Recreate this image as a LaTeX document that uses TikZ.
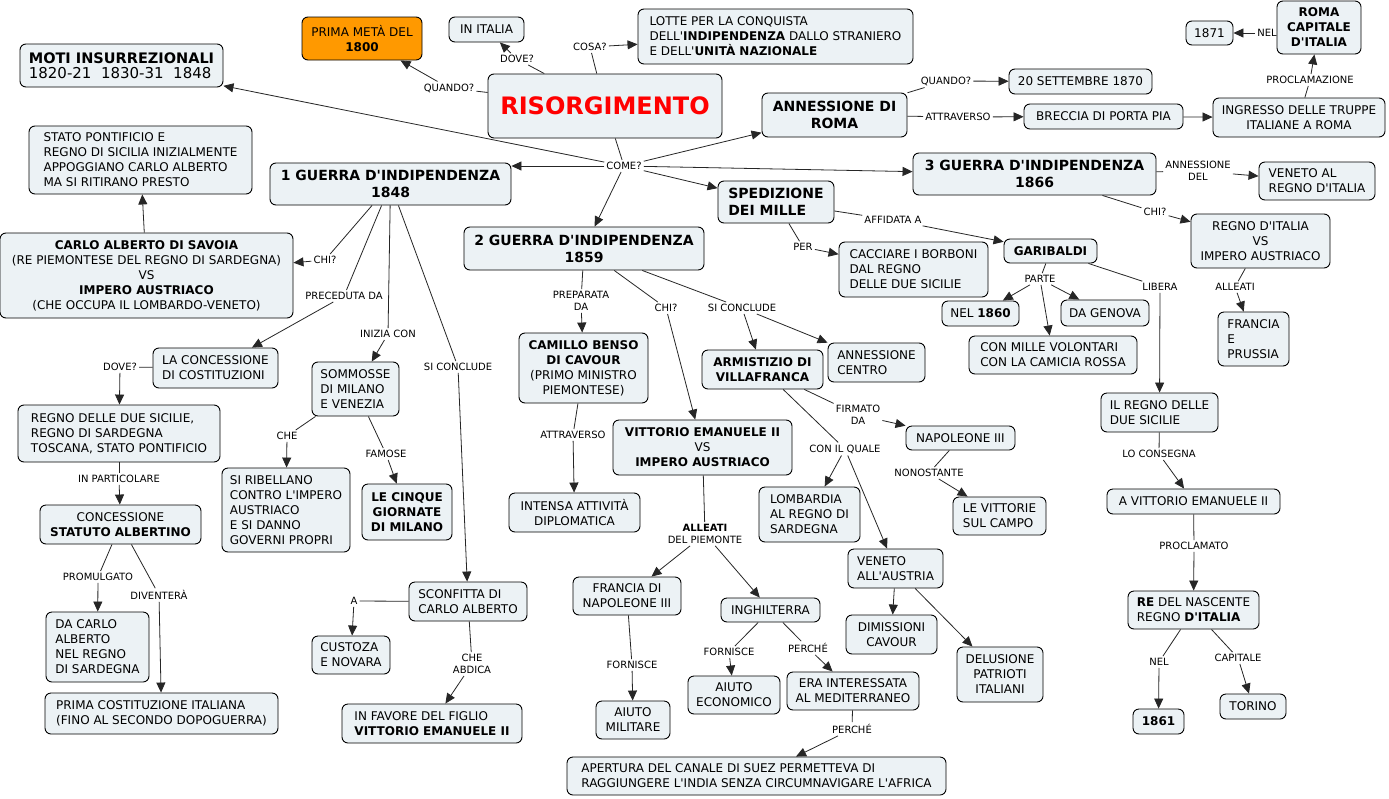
\documentclass[tikz,border=0pt]{standalone}
\usepackage{fontspec}
\setmainfont{DejaVu Sans}[Ligatures=TeXOff]
\usetikzlibrary{arrows.meta,calc}
\definecolor{boxfill}{RGB}{236,242,245}
\definecolor{orangefill}{RGB}{255,153,0}
\newcommand{\nsz}{\fontsize{12}{15}\selectfont}
\newcommand{\tsz}{\fontsize{14}{17}\selectfont\bfseries}
\newcommand{\lsz}{\fontsize{10}{12}\selectfont}
\newcommand{\mapbox}[7][]{\node[box,minimum width={(#4-#2)*1pt},minimum height={(#5-#3)*1pt},#1] (#6) at ({(#2+#4)/2},{(#3+#5)/2}) {#7};}
\begin{document}
\begin{tikzpicture}[x=1pt,y=-1pt,
 box/.style={draw=black,line width=0.9pt,rounded corners=6pt,fill=boxfill,inner sep=0pt,font=\nsz,align=center},
 lbl/.style={inner sep=2pt,font=\lsz,align=center},
 conn/.style={draw=black!85,line width=0.8pt},
 arr/.style={conn,-{Triangle[length=10pt,width=9pt]}}]
\fill[white] (0,0) rectangle (1389,798);
\useasboundingbox (0,0) rectangle (1389,798);

% concepts
\mapbox[align=left]{20}{44}{223}{87}{moti}{{\fontsize{14.5}{18}\selectfont\bfseries MOTI INSURREZIONALI}\\{\fontsize{15}{18}\selectfont 1820-21\ \ 1830-31\ \ 1848}}
\mapbox[fill=orangefill]{302}{17}{422}{60}{prima}{PRIMA METÀ DEL\\{\bfseries 1800}}
\mapbox{449}{17}{524}{42}{italia}{IN ITALIA}
\mapbox[align=left]{638}{9}{913}{64}{lotte}{LOTTE PER LA CONQUISTA\\DELL'{\bfseries INDIPENDENZA} DALLO STRANIERO\\E DELL'{\bfseries UNITÀ NAZIONALE}}
\mapbox[font=\fontsize{24}{28}\selectfont\bfseries,text=red]{488}{74}{722}{138}{ris}{RISORGIMENTO}
\mapbox[font=\tsz]{762}{93}{907}{137}{annroma}{ANNESSIONE DI\\ROMA}
\mapbox{1009}{69}{1152}{94}{sett}{20 SETTEMBRE 1870}
\mapbox{1024}{104}{1183}{129}{breccia}{BRECCIA DI PORTA PIA}
\mapbox{1213}{98}{1385}{137}{ingresso}{INGRESSO DELLE TRUPPE\\ITALIANE A ROMA}
\mapbox[font=\nsz\bfseries]{1277}{1}{1361}{54}{romacap}{ROMA\\CAPITALE\\D'ITALIA}
\mapbox{1186}{21}{1233}{45}{ysevone}{1871}
\mapbox[align=left]{29}{126}{252}{194}{stato}{STATO PONTIFICIO E\\REGNO DI SICILIA INIZIALMENTE\\APPOGGIANO CARLO ALBERTO\\MA SI RITIRANO PRESTO}
\mapbox[font=\tsz]{270}{163}{511}{205}{guerra1}{1 GUERRA D'INDIPENDENZA\\1848}
\mapbox[font=\tsz]{913}{153}{1156}{195}{guerra3}{3 GUERRA D'INDIPENDENZA\\1866}
\mapbox[align=left]{1259}{162}{1375}{200}{venetoal}{VENETO AL\\REGNO D'ITALIA}
\mapbox[font=\tsz,align=left]{718}{181}{834}{223}{spedizione}{SPEDIZIONE\\DEI MILLE}
\mapbox{1191}{214}{1330}{268}{regnovs}{REGNO D'ITALIA\\VS\\IMPERO AUSTRIACO}
\mapbox[font=\nsz\bfseries]{1004}{239}{1097}{263}{garibaldi}{GARIBALDI}
\mapbox[align=left]{839}{242}{988}{297}{cacciare}{CACCIARE I BORBONI\\DAL REGNO\\DELLE DUE SICILIE}
\mapbox[font=\tsz]{464}{227}{704}{270}{guerra2}{2 GUERRA D'INDIPENDENZA\\1859}
\mapbox{0}{233}{293}{318}{carlo}{{\bfseries CARLO ALBERTO DI SAVOIA}\\(RE PIEMONTESE DEL REGNO DI SARDEGNA)\\VS\\{\bfseries IMPERO AUSTRIACO}\\(CHE OCCUPA IL LOMBARDO-VENETO)}
\mapbox{942}{301}{1019}{326}{nelsixty}{NEL {\bfseries 1860}}
\mapbox{1061}{300}{1149}{326}{genova}{DA GENOVA}
\mapbox[align=left]{969}{336}{1137}{374}{conmille}{CON MILLE VOLONTARI\\CON LA CAMICIA ROSSA}
\mapbox[align=left]{1218}{312}{1289}{366}{francia}{FRANCIA\\E\\PRUSSIA}
\mapbox[align=left]{153}{348}{278}{388}{laconc}{LA CONCESSIONE\\DI COSTITUZIONI}
\mapbox[align=left]{312}{362}{399}{416}{sommosse}{SOMMOSSE\\DI MILANO\\E VENEZIA}
\mapbox{519}{333}{648}{403}{camillo}{{\bfseries CAMILLO BENSO}\\{\bfseries DI CAVOUR}\\(PRIMO MINISTRO\\PIEMONTESE)}
\mapbox[font=\nsz\bfseries]{702}{350}{823}{389}{armistizio}{ARMISTIZIO DI\\VILLAFRANCA}
\mapbox[align=left]{828}{343}{925}{382}{anncentro}{ANNESSIONE\\CENTRO}
\mapbox{613}{420}{792}{475}{vittoriovs}{{\bfseries VITTORIO EMANUELE II}\\VS\\{\bfseries IMPERO AUSTRIACO}}
\mapbox[align=left]{18}{405}{220}{462}{regnodue}{REGNO DELLE DUE SICILIE,\\REGNO DI SARDEGNA\\TOSCANA, STATO PONTIFICIO}
\mapbox{906}{426}{1015}{450}{napoleone}{NAPOLEONE III}
\mapbox[align=left]{1101}{393}{1218}{432}{ilregno}{IL REGNO DELLE\\DUE SICILIE}
\mapbox{1107}{489}{1280}{514}{avittorio}{A VITTORIO EMANUELE II}
\mapbox[align=left]{759}{487}{860}{542}{lombardia}{LOMBARDIA\\AL REGNO DI\\SARDEGNA}
\mapbox[align=left]{953}{497}{1046}{535}{vittorie}{LE VITTORIE\\SUL CAMPO}
\mapbox{509}{493}{640}{532}{intensa}{INTENSA ATTIVITÀ\\DIPLOMATICA}
\mapbox[align=left]{222}{468}{350}{552}{ribellano}{SI RIBELLANO\\CONTRO L'IMPERO\\AUSTRIACO\\E SI DANNO\\GOVERNI PROPRI}
\mapbox[font=\nsz\bfseries]{362}{484}{452}{540}{cinque}{LE CINQUE\\GIORNATE\\DI MILANO}
\mapbox{40}{505}{201}{544}{statuto}{CONCESSIONE\\{\bfseries STATUTO ALBERTINO}}
\mapbox[align=left]{848}{549}{943}{588}{venetoaus}{VENETO\\ALL'AUSTRIA}
\mapbox{573}{577}{681}{615}{francianap}{FRANCIA DI\\NAPOLEONE III}
\mapbox[align=left]{409}{582}{527}{621}{sconfitta}{SCONFITTA DI\\CARLO ALBERTO}
\mapbox{721}{598}{820}{622}{inghilterra}{INGHILTERRA}
\mapbox{846}{615}{937}{654}{dimissioni}{DIMISSIONI\\CAVOUR}
\mapbox[align=left]{46}{612}{149}{682}{dacarlo}{DA CARLO\\ALBERTO\\NEL REGNO\\DI SARDEGNA}
\mapbox[align=left]{312}{636}{390}{674}{custoza}{CUSTOZA\\E NOVARA}
\mapbox{957}{647}{1043}{702}{delusione}{DELUSIONE\\PATRIOTI\\ITALIANI}
\mapbox{688}{676}{780}{714}{aiutoeco}{AIUTO\\ECONOMICO}
\mapbox{787}{672}{919}{710}{era}{ERA INTERESSATA\\AL MEDITERRANEO}
\mapbox[align=left]{1128}{591}{1259}{629}{re}{{\bfseries RE} DEL NASCENTE\\REGNO {\bfseries D'ITALIA}}
\mapbox{596}{701}{670}{739}{aiutomil}{AIUTO\\MILITARE}
\mapbox[align=left]{45}{693}{278}{734}{primacost}{PRIMA COSTITUZIONE ITALIANA\\(FINO AL SECONDO DOPOGUERRA)}
\mapbox[align=left]{342}{704}{522}{743}{infavore}{IN FAVORE DEL FIGLIO\\{\bfseries VITTORIO EMANUELE II}}
\mapbox{1220}{694}{1286}{719}{torino}{TORINO}
\mapbox[font=\nsz\bfseries]{1133}{709}{1184}{734}{ysixtyone}{1861}
\mapbox[align=left]{567}{757}{946}{795}{apertura}{APERTURA DEL CANALE DI SUEZ PERMETTEVA DI\\RAGGIUNGERE L'INDIA SENZA CIRCUMNAVIGARE L'AFRICA}

% linking phrases
\node[lbl] (lquando) at (449,88) {QUANDO?};
\node[lbl] (ldove) at (517,59) {DOVE?};
\node[lbl] (lcosa) at (590,47) {COSA?};
\node[lbl] (lcome) at (624,166) {COME?};
\node[lbl] (lquandob) at (946,81) {QUANDO?};
\node[lbl] (lattra) at (958,117) {ATTRAVERSO};
\node[lbl] (lproclz) at (1310,80) {PROCLAMAZIONE};
\node[lbl] (lnela) at (1267,33) {NEL};
\node[lbl] (lanndel) at (1198,171) {ANNESSIONE\\DEL};
\node[lbl] (lchic) at (1155,212) {CHI?};
\node[lbl] (lalleatic) at (1235,287) {ALLEATI};
\node[lbl] (laffidata) at (893,220) {AFFIDATA A};
\node[lbl] (lper) at (803,247) {PER};
\node[lbl] (lparte) at (1040,279) {PARTE};
\node[lbl] (llibera) at (1160,287) {LIBERA};
\node[lbl] (lconsegna) at (1159,454) {LO CONSEGNA};
\node[lbl] (lproclamato) at (1194,546) {PROCLAMATO};
\node[lbl] (lnelb) at (1159,662) {NEL};
\node[lbl] (lcapitale) at (1238,658) {CAPITALE};
\node[lbl] (lchia) at (325,260) {CHI?};
\node[lbl] (lpreceduta) at (344,296) {PRECEDUTA DA};
\node[lbl] (linizia) at (388,334) {INIZIA CON};
\node[lbl] (lconcludea) at (458,367) {SI CONCLUDE};
\node[lbl] (ldoveb) at (120,367) {DOVE?};
\node[lbl] (lpartic) at (119,479) {IN PARTICOLARE};
\node[lbl] (lpromul) at (98,577) {PROMULGATO};
\node[lbl] (ldiventera) at (159,595) {DIVENTERÀ};
\node[lbl] (lche) at (287,436) {CHE};
\node[lbl] (lfamose) at (386,454) {FAMOSE};
\node[lbl] (la) at (354,601) {A};
\node[lbl] (lcheabdica) at (472,664) {CHE\\ABDICA};
\node[lbl] (lpreparata) at (581,301) {PREPARATA\\DA};
\node[lbl] (lchib) at (666,308) {CHI?};
\node[lbl] (lconcludeb) at (742,308) {SI CONCLUDE};
\node[lbl] (lattrb) at (573,435) {ATTRAVERSO};
\node[lbl] (lalleatib) at (705,534) {{\bfseries ALLEATI}\\DEL PIEMONTE};
\node[lbl] (lfornia) at (632,665) {FORNISCE};
\node[lbl] (lfornib) at (729,652) {FORNISCE};
\node[lbl] (lperchea) at (808,648) {PERCHÉ};
\node[lbl] (lpercheb) at (852,729) {PERCHÉ};
\node[lbl] (lfirmato) at (858,415) {FIRMATO\\DA};
\node[lbl] (lconilquale) at (845,449) {CON IL QUALE};
\node[lbl] (lnonostante) at (929,473) {NONOSTANTE};

% connectors
\draw[conn] (ris) -- (lquando); \draw[arr] (lquando) -- (prima);
\draw[conn] (ris) -- (ldove); \draw[arr] (ldove) -- (italia);
\draw[conn] (ris) -- (lcosa); \draw[arr] (lcosa) -- (lotte);
\draw[conn] (ris) -- (lcome);
\draw[arr] (lcome) -- (moti);
\draw[arr] (lcome) -- (guerra1.east |- lcome);
\draw[arr] (lcome) -- (guerra2);
\draw[arr] (lcome) -- (annroma);
\draw[arr] (lcome) -- (guerra3);
\draw[arr] (lcome) -- (spedizione);
\draw[conn] (annroma) -- (lquandob); \draw[arr] (lquandob) -- (sett);
\draw[conn] (annroma) -- (lattra); \draw[arr] (lattra) -- (breccia);
\draw[arr] (breccia) -- (ingresso);
\draw[conn] (ingresso) -- (lproclz); \draw[arr] (lproclz) -- (romacap);
\draw[arr] (lnela) -- (ysevone);
\draw[conn] (guerra3) -- (lanndel); \draw[arr] (lanndel) -- (venetoal);
\draw[conn] (guerra3) -- (lchic); \draw[arr] (lchic) -- (regnovs);
\draw[conn] (regnovs) -- (lalleatic); \draw[arr] (lalleatic) -- (francia);
\draw[conn] (spedizione) -- (laffidata); \draw[arr] (laffidata) -- (garibaldi);
\draw[conn] (spedizione) -- (lper); \draw[arr] (lper) -- (cacciare);
\draw[conn] (garibaldi) -- (lparte);
\draw[arr] (lparte) -- (nelsixty); \draw[arr] (lparte) -- (genova); \draw[arr] (lparte) -- (conmille);
\draw[conn] (garibaldi) -- (llibera); \draw[arr] (llibera) -- (ilregno);
\draw[conn] (ilregno) -- (lconsegna); \draw[arr] (lconsegna) -- (avittorio);
\draw[conn] (avittorio) -- (lproclamato); \draw[arr] (lproclamato) -- (re);
\draw[conn] (re) -- (lnelb); \draw[arr] (lnelb) -- (ysixtyone);
\draw[conn] (re) -- (lcapitale); \draw[arr] (lcapitale) -- (torino);
\draw[conn] (guerra1) -- (lchia); \draw[arr] (lchia) -- (carlo);
\draw[arr] (carlo) -- (stato);
\draw[conn] (guerra1) -- (lpreceduta); \draw[arr] (lpreceduta) -- (laconc);
\draw[conn] (guerra1) -- (linizia); \draw[arr] (linizia) -- (sommosse);
\draw[conn] (guerra1) -- (lconcludea); \draw[arr] (lconcludea) -- (sconfitta);
\draw[conn] (laconc) -- (ldoveb); \draw[arr] (ldoveb) -- (regnodue);
\draw[conn] (regnodue) -- (lpartic); \draw[arr] (lpartic) -- (statuto);
\draw[conn] (statuto) -- (lpromul); \draw[arr] (lpromul) -- (dacarlo);
\draw[conn] (statuto) -- (ldiventera); \draw[arr] (ldiventera) -- (primacost);
\draw[conn] (sommosse) -- (lche); \draw[arr] (lche) -- (ribellano);
\draw[conn] (sommosse) -- (lfamose); \draw[arr] (lfamose) -- (cinque);
\draw[conn] (sconfitta) -- (la); \draw[arr] (la) -- (custoza);
\draw[conn] (sconfitta) -- (lcheabdica); \draw[arr] (lcheabdica) -- (infavore);
\draw[conn] (guerra2) -- (lpreparata); \draw[arr] (lpreparata) -- (camillo);
\draw[conn] (guerra2) -- (lchib); \draw[arr] (lchib) -- (vittoriovs);
\draw[conn] (guerra2) -- (lconcludeb);
\draw[arr] (lconcludeb) -- (armistizio); \draw[arr] (lconcludeb) -- (anncentro);
\draw[conn] (camillo) -- (lattrb); \draw[arr] (lattrb) -- (intensa);
\draw[conn] (vittoriovs) -- (lalleatib);
\draw[arr] (lalleatib) -- (francianap); \draw[arr] (lalleatib) -- (inghilterra);
\draw[conn] (francianap) -- (lfornia); \draw[arr] (lfornia) -- (aiutomil);
\draw[conn] (inghilterra) -- (lfornib); \draw[arr] (lfornib) -- (aiutoeco);
\draw[conn] (inghilterra) -- (lperchea); \draw[arr] (lperchea) -- (era);
\draw[conn] (era) -- (lpercheb); \draw[arr] (lpercheb) -- (apertura);
\draw[conn] (armistizio) -- (lfirmato); \draw[arr] (lfirmato) -- (napoleone);
\draw[conn] (armistizio) -- (lconilquale);
\draw[arr] (lconilquale) -- (lombardia); \draw[arr] (lconilquale) -- (venetoaus);
\draw[conn] (napoleone) -- (lnonostante); \draw[arr] (lnonostante) -- (vittorie);
\draw[arr] (venetoaus) -- (dimissioni); \draw[arr] (venetoaus) -- (delusione);
\end{tikzpicture}
\end{document}
